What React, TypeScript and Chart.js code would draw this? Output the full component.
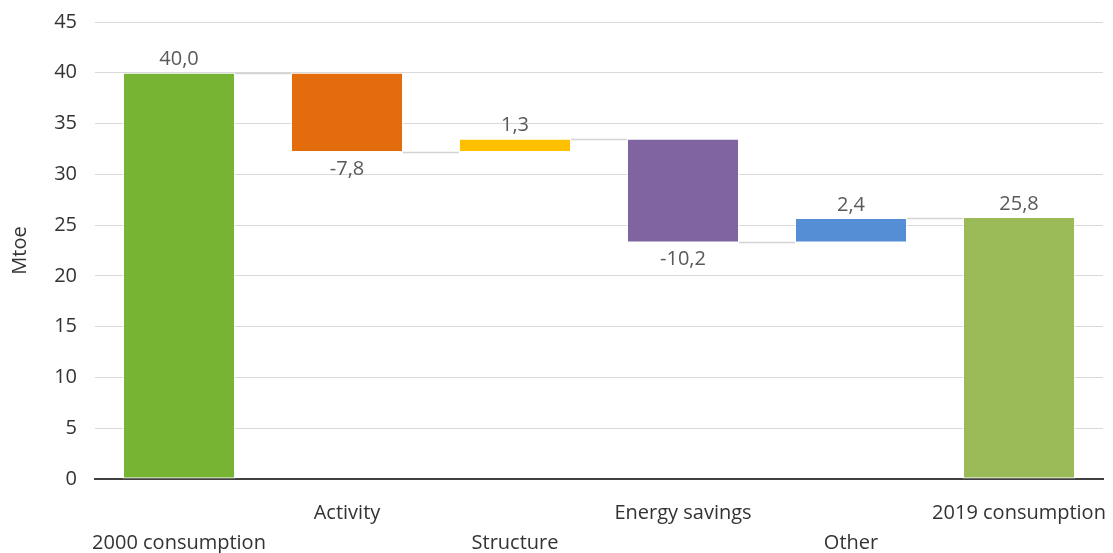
import React, { useEffect, useRef } from "react";
import { Chart, registerables } from "chart.js";

Chart.register(...registerables);

// Decomposition of final energy consumption, 2000 → 2019 (Mtoe)
const categories = [
  "2000 consumption",
  "Activity",
  "Structure",
  "Energy savings",
  "Other",
  "2019 consumption",
];
const changes = [40.0, -7.8, 1.3, -10.2, 2.4, 25.8];
const isTotal = [true, false, false, false, false, true];
const barColors = ["#77b434", "#e36c0c", "#ffc000", "#8064a2", "#558ed5", "#9bbb59"];
const yMin = 0;
const yMax = 45;
const yStep = 5;

const FONT = "'Open Sans', 'DejaVu Sans', sans-serif";

// Floating [start, end] pairs for the waterfall, plus the running level after each step
function buildWaterfall() {
  const ranges: [number, number][] = [];
  const levels: number[] = [];
  let running = 0;
  changes.forEach((v, i) => {
    if (isTotal[i]) {
      ranges.push([0, v]);
      running = v;
    } else {
      ranges.push([running, running + v]);
      running = +(running + v).toFixed(4);
    }
    levels.push(running);
  });
  return { ranges, levels };
}

const fmt = (v: number) => v.toFixed(1).replace(".", ",");

export default function App() {
  const canvasRef = useRef<HTMLCanvasElement | null>(null);

  useEffect(() => {
    if (!canvasRef.current) return;
    const { ranges, levels } = buildWaterfall();

    // Thin grey connectors between consecutive bars
    const connectors = {
      id: "connectors",
      beforeDatasetsDraw(chart: any) {
        const meta = chart.getDatasetMeta(0);
        const y = chart.scales.y;
        const ctx = chart.ctx;
        ctx.save();
        ctx.strokeStyle = "#d4d4d4";
        ctx.lineWidth = 1.5;
        for (let i = 0; i < meta.data.length - 1; i++) {
          const a = meta.data[i];
          const b = meta.data[i + 1];
          const py = Math.round(y.getPixelForValue(levels[i])) + 0.5;
          ctx.beginPath();
          ctx.moveTo(a.x + a.width / 2, py);
          ctx.lineTo(b.x - b.width / 2, py);
          ctx.stroke();
        }
        ctx.restore();
      },
    };

    // Value labels: above rising/total bars, below falling bars
    const valueLabels = {
      id: "valueLabels",
      afterDatasetsDraw(chart: any) {
        const meta = chart.getDatasetMeta(0);
        const ctx = chart.ctx;
        ctx.save();
        ctx.font = `20px ${FONT}`;
        ctx.fillStyle = "#595959";
        ctx.textAlign = "center";
        ctx.textBaseline = "middle";
        meta.data.forEach((el: any, i: number) => {
          const v = changes[i];
          const top = Math.min(el.y, el.base);
          const bottom = Math.max(el.y, el.base);
          if (v >= 0) ctx.fillText(fmt(v), el.x, top - 13);
          else ctx.fillText(fmt(v), el.x, bottom + 17);
        });
        ctx.restore();
      },
    };

    const chart = new Chart(canvasRef.current, {
      type: "bar",
      data: {
        labels: categories,
        datasets: [
          {
            data: ranges as any,
            backgroundColor: barColors,
            borderColor: "#ffffff",
            borderWidth: 1,
            borderSkipped: false,
            barPercentage: 0.667,
            categoryPercentage: 1,
          },
        ],
      },
      options: {
        animation: false,
        responsive: true,
        maintainAspectRatio: false,
        layout: { padding: { top: 22, right: 10, left: 0, bottom: 0 } },
        plugins: {
          legend: { display: false },
          tooltip: { enabled: false },
        },
        scales: {
          x: {
            grid: { display: false, drawTicks: false },
            border: { display: true, color: "#404040", width: 2 },
            ticks: {
              color: "#333333",
              padding: 19,
              maxRotation: 0,
              autoSkip: false,
              font: { family: FONT, size: 20, lineHeight: 1.5 },
              callback: (_v: any, i: number) =>
                i % 2 === 0 ? ["", categories[i]] : categories[i],
            },
            afterFit: (scale: any) => {
              scale.height = 74;
              scale.paddingLeft = 0;
              scale.paddingRight = 0;
            },
          },
          y: {
            min: yMin,
            max: yMax,
            ticks: {
              stepSize: yStep,
              color: "#333333",
              padding: 18,
              font: { family: FONT, size: 20 },
            },
            grid: {
              drawTicks: false,
              color: (c: any) => (c.tick && c.tick.value === 0 ? "rgba(0,0,0,0)" : "#d9d9d9"),
              lineWidth: 1,
            },
            border: { display: false },
            title: {
              display: true,
              text: "Mtoe",
              color: "#333333",
              font: { family: FONT, size: 20 },
              padding: { top: 8, bottom: 0 },
            },
            afterFit: (scale: any) => {
              scale.width = 95;
              scale.paddingTop = 0;
              scale.paddingBottom = 0;
            },
          },
        },
      },
      plugins: [connectors, valueLabels],
    });

    return () => chart.destroy();
  }, []);

  return (
    <div
      style={{
        position: "fixed",
        left: 0,
        top: 0,
        width: "1113px",
        height: "553px",
        background: "#ffffff",
      }}
    >
      <canvas ref={canvasRef} />
    </div>
  );
}
